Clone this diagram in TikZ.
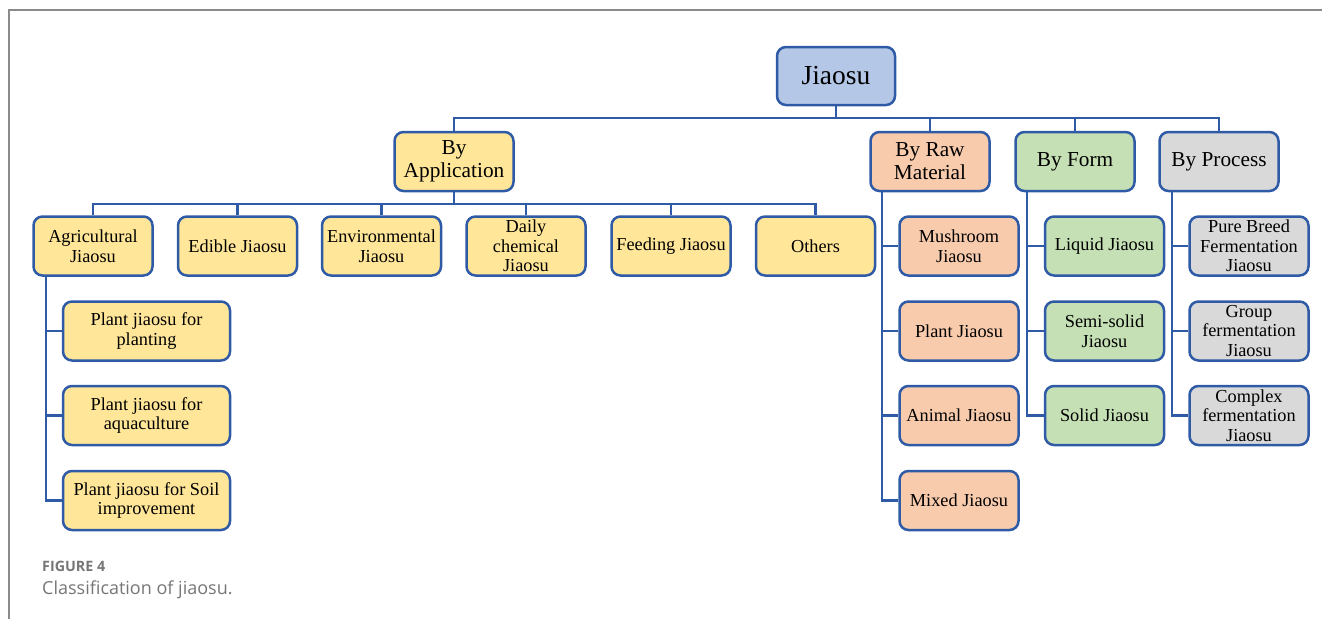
\documentclass[tikz,border=0pt]{standalone}
\usepackage{fontspec}
\setmainfont{Liberation Serif}
\newfontfamily\capfont{Open Sans}
\definecolor{bord}{HTML}{2F5AA6}
\definecolor{rootf}{HTML}{B4C7E7}
\definecolor{yel}{HTML}{FFE699}
\definecolor{sal}{HTML}{F8CBAD}
\definecolor{grn}{HTML}{C5E0B4}
\definecolor{gry}{HTML}{D9D9D9}
\definecolor{frame}{HTML}{8A8A8A}
\definecolor{captxt}{HTML}{767676}
\begin{document}
\begin{tikzpicture}[x=1pt,y=-1pt,
  box/.style={draw=bord, line width=2.5pt, rounded corners=9pt, minimum width=119pt, minimum height=59pt, align=center, inner sep=2pt, font=\fontsize{18.3}{19.5}\selectfont},
  lvltwo/.style={box, font=\fontsize{21.3}{23}\selectfont},
  wide/.style={box, minimum width=167pt},
  conn/.style={draw=bord, line width=2.5pt}]
\useasboundingbox (0,0) rectangle (1322,619);
\draw[frame, line width=2pt] (9,619) -- (9,10) -- (1322,10);
% root
\node[box, fill=rootf, minimum width=118pt, minimum height=58pt, font=\fontsize{27.5}{30}\selectfont] (root) at (836,76) {Jiaosu};
% level 2
\node[lvltwo, fill=yel] (app) at (454,161.5) {By\\Application};
\node[lvltwo, fill=sal] (raw) at (930,161.5) {By Raw\\Material};
\node[lvltwo, fill=grn] (form) at (1075,161.5) {By Form};
\node[lvltwo, fill=gry] (proc) at (1219,161.5) {By Process};
\coordinate (b1) at (0,118);
\draw[conn] (root.south) -- (root.south|-b1);
\draw[conn] (app.north) -- (app.north|-b1) -- (proc.north|-b1) -- (proc.north);
\draw[conn] (raw.north) -- (raw.north|-b1);
\draw[conn] (form.north) -- (form.north|-b1);
% application children
\node[box, fill=yel] (agri) at (93,246) {Agricultural\\Jiaosu};
\node[box, fill=yel] (edible) at (237.5,246) {Edible Jiaosu};
\node[box, fill=yel] (env) at (381.5,246) {Environmental\\Jiaosu};
\node[box, fill=yel] (daily) at (526,246) {Daily\\chemical\\Jiaosu};
\node[box, fill=yel] (feed) at (671,246) {Feeding Jiaosu};
\node[box, fill=yel] (others) at (815.5,246) {Others};
\coordinate (b2) at (0,204);
\draw[conn] (app.south) -- (app.south|-b2);
\draw[conn] (agri.north) -- (agri.north|-b2) -- (others.north|-b2) -- (others.north);
\foreach \n in {edible,env,daily,feed} \draw[conn] (\n.north) -- (\n.north|-b2);
% agricultural children
\node[wide, fill=yel] (pp) at (146.5,331) {Plant jiaosu for\\planting};
\node[wide, fill=yel] (pa) at (146.5,415.5) {Plant jiaosu for\\aquaculture};
\node[wide, fill=yel] (ps) at (146.5,500.5) {Plant jiaosu for Soil\\improvement};
\coordinate (v1) at (46,0);
\draw[conn] (agri.south-|v1) |- (ps.west);
\draw[conn] (v1|-pp.west) -- (pp.west);
\draw[conn] (v1|-pa.west) -- (pa.west);
% raw material children
\node[box, fill=sal] (mush) at (959,246) {Mushroom\\Jiaosu};
\node[box, fill=sal] (plant) at (959,331) {Plant Jiaosu};
\node[box, fill=sal] (animal) at (959,415.5) {Animal Jiaosu};
\node[box, fill=sal] (mixed) at (959,500.5) {Mixed Jiaosu};
\coordinate (v2) at (882,0);
\draw[conn] (raw.south-|v2) |- (mixed.west);
\foreach \n in {mush,plant,animal} \draw[conn] (v2|-\n.west) -- (\n.west);
% form children
\node[box, fill=grn] (liq) at (1104.5,246) {Liquid Jiaosu};
\node[box, fill=grn] (semi) at (1104.5,331) {Semi-solid\\Jiaosu};
\node[box, fill=grn] (solid) at (1104.5,415.5) {Solid Jiaosu};
\coordinate (v3) at (1027,0);
\draw[conn] (form.south-|v3) |- (solid.west);
\foreach \n in {liq,semi} \draw[conn] (v3|-\n.west) -- (\n.west);
% process children
\node[box, fill=gry] (pure) at (1249,246) {Pure Breed\\Fermentation\\Jiaosu};
\node[box, fill=gry] (group) at (1249,331) {Group\\fermentation\\Jiaosu};
\node[box, fill=gry] (comp) at (1249,415.5) {Complex\\fermentation\\Jiaosu};
\coordinate (v4) at (1172,0);
\draw[conn] (proc.south-|v4) |- (comp.west);
\foreach \n in {pure,group} \draw[conn] (v4|-\n.west) -- (\n.west);
% caption
\node[anchor=base west, inner sep=0, text=captxt, font=\capfont\fontsize{14.3}{16}\selectfont\bfseries] (fig) at (42,571) {FIGURE 4};
\node[anchor=base west, inner sep=0, text=captxt, font=\capfont\fontsize{18}{20}\selectfont] (cap) at (42,594) {Classification of jiaosu.};
\end{tikzpicture}
\end{document}
